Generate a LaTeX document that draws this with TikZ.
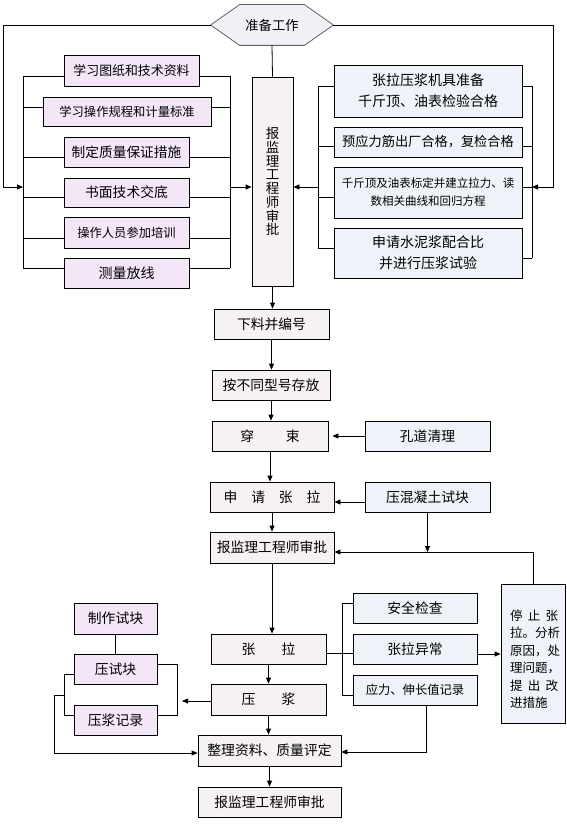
\documentclass[tikz,border=0pt]{standalone}
\usepackage{fontspec}
\setmainfont{Noto Sans CJK SC}
\usetikzlibrary{arrows.meta}
\definecolor{lavC}{HTML}{F3E6F7}
\definecolor{bluC}{HTML}{EFF3F9}
\definecolor{mainC}{HTML}{F6F1F5}
\definecolor{hexC}{HTML}{F3EFF7}
\definecolor{hexB}{HTML}{606060}
\tikzset{
  fs/.style={font={\fontsize{#1}{#1}\selectfont}},
  base/.style={draw=black, line width=0.8pt, inner sep=0pt, align=center, fs=13.8pt},
  lav/.style={base, fill=lavC},
  blu/.style={base, fill=bluC},
  mainbox/.style={base, fill=mainC},
  wh/.style args={#1x#2}{minimum width=#1pt, minimum height=#2pt},
  arr/.style={-{Triangle[length=6pt,width=5pt]}},
}
\begin{document}
\begin{tikzpicture}[x=1pt,y=-1pt, line width=0.8pt]
\path[use as bounding box, fill=white, draw=none] (0,0) rectangle (567,824);

% top hexagon
\path (272,25) node[minimum width=122pt, minimum height=40pt, inner sep=0pt] (prep) {};
\draw[draw=hexB, fill=hexC] (prep.west) -- ([xshift=29pt]prep.north west) -- ([xshift=-29pt]prep.north east) -- (prep.east) -- ([xshift=-29pt]prep.south east) -- ([xshift=29pt]prep.south west) -- cycle;
\node[fs=13.3pt, inner sep=0pt] (preplabel) at (prep) {准备工作};

% left group
\node[lav, wh=135x31, fs=12.9pt] (L1) at (131.5,70.5) {学习图纸和技术资料};
\node[lav, wh=168x29, fs=12.3pt] (L2) at (127,111.5) {学习操作规程和计量标准};
\node[lav, wh=125x30, fs=13.7pt] (L3) at (126.5,152) {制定质量保证措施};
\node[lav, wh=125x29, fs=13.8pt] (L4) at (126.5,192.5) {书面技术交底};
\node[lav, wh=125x31, fs=12.3pt] (L5) at (126.5,232.5) {操作人员参加培训};
\node[lav, wh=125x30, fs=14pt] (L6) at (126.5,273) {测量放线};

% tall box
\node[mainbox, wh=41x209, font={\fontsize{13.5pt}{13.75pt}\selectfont}] (T) at (272.5,181.5) {报\\监\\理\\工\\程\\师\\审\\批};

% right group
\node[blu, wh=188x52, font={\fontsize{14pt}{21pt}\selectfont}] (R1) at (428,91) {张拉压浆机具准备\\千斤顶、油表检验合格};
\node[blu, wh=188x30, fs=13.2pt] (R2) at (428,142) {预应力筋出厂合格，复检合格};
\node[blu, wh=188x51, font={\fontsize{11.5pt}{18pt}\selectfont}] (R3) at (428,192.5) {千斤顶及油表标定并建立拉力、读\\数相关曲线和回归方程};
\node[blu, wh=188x50, font={\fontsize{14pt}{21pt}\selectfont}] (R4) at (428,253) {申请水泥浆配合比\\并进行压浆试验};

% main flow
\node[mainbox, wh=115x30] (M1) at (271.5,324) {下料并编号};
\node[mainbox, wh=118x30] (M2) at (271,385) {按不同型号存放};
\node[mainbox, wh=116x30] (M3) at (270,436) {穿\hspace{2.3em}束};
\node[blu, wh=125x30] (K) at (427.5,436) {孔道清理};
\node[mainbox, wh=124x30] (M4) at (272,497) {申\quad 请\quad 张\quad 拉};
\node[blu, wh=125x30] (Y) at (427.5,497) {压混凝土试块};
\node[mainbox, wh=124x31] (M5) at (272,547.5) {报监理工程师审批};
\node[blu, wh=64x139] (S) at (533,653.5) {};
\node[anchor=north west, inner sep=0pt, align=left, font={\fontsize{12.5pt}{17.4pt}\selectfont}] (Stext) at ([xshift=9pt,yshift=-26pt]S.north west)
  {\makebox[48pt][s]{停\hfil 止\hfil 张}\\拉。分析\\原因，处\\理问题，\\\makebox[48pt][s]{提\hfil 出\hfil 改}\\进措施};
\node[mainbox, wh=115x30] (M6) at (268.5,649) {张\hspace{1.9em}拉};
\node[mainbox, wh=115x31] (M7) at (268.5,699.5) {压\hspace{1.9em}浆};
\node[mainbox, wh=143x31] (M8) at (269.5,750.5) {整理资料、质量评定};
\node[mainbox, wh=143x30] (M9) at (269.5,802) {报监理工程师审批};

\node[blu, wh=124x30] (A1) at (415,608) {安全检查};
\node[blu, wh=124x30] (A2) at (415,649) {张拉异常};
\node[blu, wh=124x30, fs=12.3pt] (A3) at (415,690) {应力、伸长值记录};

\node[lav, wh=83x31] (B1) at (115.5,618.5) {制作试块};
\node[lav, wh=83x30] (B2) at (115.5,669) {压试块};
\node[lav, wh=83x30] (B3) at (115.5,720) {压浆记录};

% ---------- connectors ----------
\coordinate (oL) at (3,187);
\coordinate (lbL) at (23,187);
\coordinate (lbR) at (230,187);
\coordinate (oR) at (553,187);
\coordinate (rbR) at (532,187);
\coordinate (rbL) at (318,187);

\draw[arr] (prep.west) -| (oL) -- (lbL);
\draw[arr] (prep.east) -| (oR) -- (rbR);
\draw (prep.south) -- (T.north);

% left ladder
\draw (23,76) -- (23,268);
\draw (230,76) -- (230,268);
\foreach \n/\y in {1/76,2/107,3/157,4/197,5/238,6/268}{
  \draw (23,\y) -- (L\n.west |- 0,\y);
  \draw (L\n.east |- 0,\y) -- (230,\y);
}
\draw[arr] (lbR) -- (T.west |- lbR);

% right ladder
\draw (318,86) -- (318,248);
\draw (532,86) -- (532,258);
\foreach \n/\y in {1/86,2/146,3/197,4/248}{
  \draw (318,\y) -- (R\n.west |- 0,\y);
}
\foreach \n/\y in {1/86,2/146,3/187,4/258}{
  \draw (R\n.east |- 0,\y) -- (532,\y);
}
\draw[arr] (rbL) -- (T.east |- rbL);

% main flow
\draw[arr] (T.south) -- (T.south |- M1.north);
\draw[arr] (M1.south) -- (M1.south |- M2.north);
\draw[arr] (M2.south) -- (M2.south |- M3.north);
\draw[arr] (M3.south) -- (M3.south |- M4.north);
\draw[arr] (M4.south) -- (M4.south |- M5.north);
\draw[arr, shorten >=4pt] (K.west) -- (M3.east);
\draw[arr] ([yshift=-5pt]Y.west) -- ([yshift=-5pt]M4.east);
\coordinate (j1) at (427.5,552);
\draw[arr] (Y.south) -- (j1);
\draw[arr] (S.north) |- ([yshift=-4.5pt]M5.east);
\draw[arr] (M5.south) -- (M5.south |- M6.north);
\draw[arr] (M6.south) -- (M6.south |- M7.north);
\draw[arr] (M7.south) -- (M7.south |- M8.north);
\draw[arr] (M8.south) -- (M8.south |- M9.north);

% right sub-group
\draw (342,603) -- (342,695);
\draw (M6.east |- 0,653) -- (342,653);
\draw (342,603) -- (A1.west |- 0,603);
\draw (342,653) -- (A2.west |- 0,653);
\draw (342,695) -- (A3.west |- 0,695);
\draw[arr] (A2.east |- 0,654) -- (S.west |- 0,654);
\draw[arr] ([xshift=11pt]A3.south) |- ([yshift=-1.5pt]M8.east);

% left sub-group
\draw (B1.south) -- (B2.north);
\draw (B2.east |- 0,664) -- (177,664) -- (177,715) -- (B3.east |- 0,715);
\draw[arr] (M7.west |- 0,701) -- (182,701);
\draw (B2.west |- 0,674) -- (64,674) -- (64,715) -- (B3.west |- 0,715);
\draw[arr] (64,695) -- (54,695) -- (54,753) -- (M8.west |- 0,753);
\end{tikzpicture}
\end{document}
